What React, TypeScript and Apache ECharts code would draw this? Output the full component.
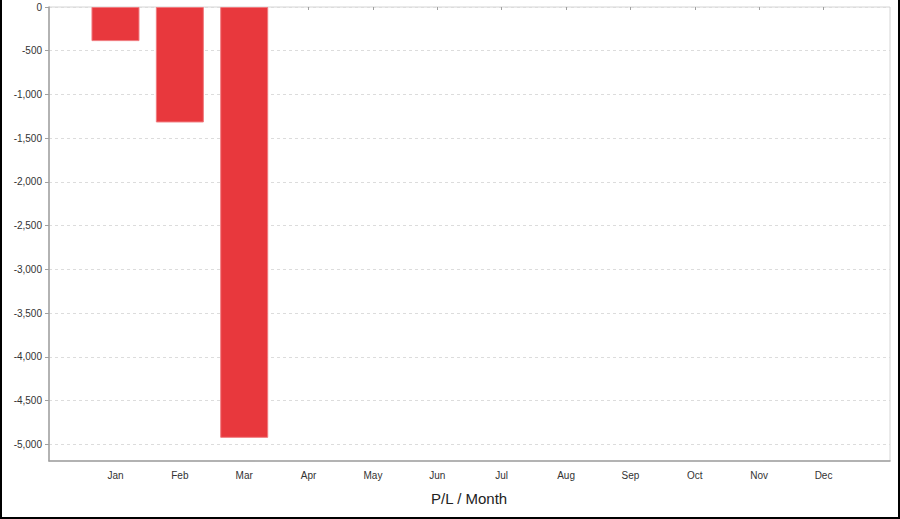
import React, { useEffect, useRef } from "react";
import * as echarts from "echarts";

const months = ["Jan", "Feb", "Mar", "Apr", "May", "Jun", "Jul", "Aug", "Sep", "Oct", "Nov", "Dec"];
const plValues: (number | null)[] = [-390, -1320, -4925, null, null, null, null, null, null, null, null, null];
const yMin = -5190;
const yMax = 0;
const yTickMin = -5000;
const yStep = 500;
const axisTitle = "P/L / Month";

export default function App() {
  const ref = useRef<HTMLDivElement>(null);
  useEffect(() => {
    if (!ref.current) return;
    const chart = echarts.init(ref.current, undefined, { renderer: "svg" });
    const H = 519;
    const top = 7;
    const bottomPx = 461;
    const tickBottomPx = top + ((yTickMin - yMax) / (yMin - yMax)) * (bottomPx - top);
    const font = "Liberation Sans, Arial, sans-serif";
    chart.setOption({
      animation: false,
      backgroundColor: "#ffffff",
      grid: [
        { left: 49, right: 10, top, bottom: H - bottomPx, show: true, borderColor: "#d4d4d4", borderWidth: 1, backgroundColor: "#ffffff" },
        { left: 83.3, right: 44.3, top, bottom: H - bottomPx },
        { left: 49, right: 10, top, bottom: H - tickBottomPx },
      ],
      xAxis: [
        {
          type: "value",
          gridIndex: 0,
          min: 0,
          max: 1,
          axisLine: { show: true, onZero: false, lineStyle: { color: "#a0a0a0", width: 1.5 } },
          axisTick: { show: false },
          axisLabel: { show: false },
          splitLine: { show: false },
        },
        {
          type: "category",
          gridIndex: 1,
          data: months,
          boundaryGap: true,
          axisLine: { show: false },
          axisTick: { show: true, alignWithLabel: true, length: 3, lineStyle: { color: "#a0a0a0" } },
          axisLabel: { color: "#333333", fontSize: 10, fontFamily: font, margin: 9 },
          splitLine: { show: false },
        },
        { type: "value", gridIndex: 2, min: 0, max: 1, show: false },
      ],
      yAxis: [
        {
          type: "value",
          gridIndex: 0,
          min: yMin,
          max: yMax,
          axisLine: { show: true, onZero: false, lineStyle: { color: "#a0a0a0", width: 1.5 } },
          axisTick: { show: false },
          axisLabel: { show: false },
          splitLine: { show: false },
        },
        {
          type: "value",
          gridIndex: 1,
          min: yMin,
          max: yMax,
          show: false,
          splitLine: { show: false },
        },
        {
          type: "value",
          gridIndex: 2,
          min: yTickMin,
          max: yMax,
          interval: yStep,
          axisLine: { show: false },
          axisTick: { show: true, length: 4, lineStyle: { color: "#a0a0a0" } },
          axisLabel: {
            color: "#333333",
            fontSize: 10,
            fontFamily: font,
            margin: 7,
            formatter: (v: number) => v.toLocaleString("en-US"),
          },
          splitLine: { show: true, lineStyle: { color: "#dcdcdc", type: [3, 3], width: 1 } },
        },
      ],
      series: [
        {
          type: "bar",
          xAxisIndex: 1,
          yAxisIndex: 1,
          data: plValues,
          barWidth: 48,
          itemStyle: { color: "#e8383d", borderColor: "#f07a7e", borderWidth: 1 },
          z: 5,
        },
      ],
      graphic: [
        {
          type: "text",
          left: 431,
          top: 491,
          style: { text: axisTitle, fontSize: 15, fill: "#222222", fontFamily: font },
        },
      ],
    });
    return () => chart.dispose();
  }, []);
  return (
    <div style={{ position: "fixed", left: 0, top: 0, width: 900, height: 519, background: "#fff" }}>
      <div ref={ref} style={{ position: "absolute", left: 0, top: 0, width: 900, height: 519 }} />
      <div
        style={{
          position: "absolute",
          left: 0,
          top: 0,
          width: 900,
          height: 519,
          boxSizing: "border-box",
          borderLeft: "2px solid #000",
          borderRight: "2px solid #000",
          borderBottom: "2px solid #000",
          pointerEvents: "none",
          zIndex: 10,
        }}
      />
    </div>
  );
}
